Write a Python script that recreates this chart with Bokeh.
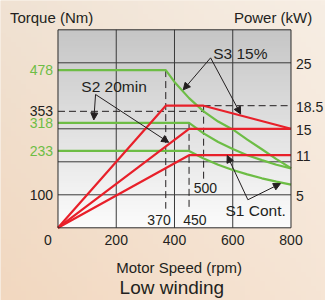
import numpy as np
from bokeh.plotting import figure
from bokeh.models import Range1d, Label, Arrow, NormalHead
from bokeh.core.properties import value
from bokeh.embed import file_html
from bokeh.resources import INLINE

# ---------------- data ----------------
s3_speed = [0, 370, 400, 450, 500, 550, 600, 650, 700, 750, 800]
s3_torque = [478, 478, 442, 393, 353, 322, 298, 267, 238, 208, 181]
s2_speed = [0, 450, 500, 550, 600, 650, 700, 750, 800]
s2_torque = [318, 318, 286, 260, 239, 220, 205, 191, 180]
s1_speed = [0, 450, 500, 550, 600, 650, 700, 750, 800]
s1_torque = [233, 233, 210, 191, 175, 162, 150, 140, 131]

s3_power_speed = [0, 370, 500, 800]
s3_power = [0, 18.5, 18.5, 15]
s2_power_speed = [0, 450, 800]
s2_power = [0, 15, 15]
s1_power_speed = [0, 450, 800]
s1_power = [0, 11, 11]

speed_ticks = [200, 400, 600, 800]
torque_ticks = [478, 353, 318, 233, 100]
torque_tick_is_curve = [True, False, True, True, False]
power_ticks = [5, 11, 15, 18.5, 25]
grid_torque = [100, 200, 300, 500]
grid_speed = [200, 400, 600]
marked_speeds = [370, 450, 500]
s3_corner_torque = 353
s3_peak_power = 18.5

SPEED_MAX = 800
TORQUE_MAX = 600
POWER_MAX = 30

# ---------------- styles ----------------
GREEN = "#6dbd45"
RED = "#e8202a"
DARK = "#231f20"
GRID = "#3a3a3a"
FONT = "Liberation Sans"

# frame covers the whole canvas; the chart box is drawn inside it
X0, X1 = -197.4, 918.5
Y0, Y1 = -220.3, 688.8
K = TORQUE_MAX / POWER_MAX

p = figure(width=325, height=300, output_backend="svg", toolbar_location=None,
           x_range=Range1d(X0, X1), y_range=Range1d(Y0, Y1),
           x_axis_location=None, y_axis_location=None,
           min_border=0, min_border_left=0, min_border_right=0,
           min_border_top=0, min_border_bottom=0)
p.extra_y_ranges = {"power": Range1d(Y0 / K, Y1 / K)}
p.outline_line_color = None
p.border_fill_color = "#f4e3d2"
p.background_fill_color = "#f4e3d2"
p.xgrid.visible = False
p.ygrid.visible = False

# peach page background (diagonal shading)
m = 64
u = np.linspace(0, 1, m)[None, :]
v = np.linspace(1, 0, m)[:, None]  # row 0 = bottom
tl, tr = np.array([242, 216, 192]), np.array([246, 229, 213])
bl, br = np.array([240, 226, 211]), np.array([247, 238, 228])
top = tl[None, None, :] * (1 - u[..., None]) + tr[None, None, :] * u[..., None]
bot = bl[None, None, :] * (1 - u[..., None]) + br[None, None, :] * u[..., None]
col = (top * v[..., None] + bot * (1 - v[..., None])).astype(np.uint32)
bg = (255 << 24) | (col[..., 2] << 16) | (col[..., 1] << 8) | col[..., 0]
p.image_rgba(image=[bg.astype(np.uint32)], x=X0, y=Y0, dw=X1 - X0, dh=Y1 - Y0, level="image")

# plot box grey gradient
n = 96
shade = np.linspace(252, 198, n).astype(np.uint32)
img = np.zeros((n, 1), dtype=np.uint32)
img[:, 0] = (255 << 24) | (shade << 16) | (shade << 8) | shade
p.image_rgba(image=[img], x=0, y=0, dw=SPEED_MAX, dh=TORQUE_MAX, level="image")

# grid lines
p.segment(x0=grid_speed, y0=[0] * len(grid_speed), x1=grid_speed, y1=[TORQUE_MAX] * len(grid_speed),
          line_color=GRID, line_width=1)
p.segment(x0=[0] * len(grid_torque), y0=grid_torque, x1=[SPEED_MAX] * len(grid_torque), y1=grid_torque,
          line_color=GRID, line_width=1)

# dashed helper lines
DASH = "7 4"
p.line([0, marked_speeds[2]], [s3_corner_torque, s3_corner_torque],
       line_color=DARK, line_width=1, line_dash=DASH)
p.line([marked_speeds[2], SPEED_MAX], [s3_peak_power, s3_peak_power], y_range_name="power",
       line_color=DARK, line_width=1, line_dash=DASH)
p.line([marked_speeds[0], marked_speeds[0]], [s3_torque[1], 58],
       line_color=DARK, line_width=1, line_dash=DASH)
p.line([marked_speeds[1], marked_speeds[1]], [s2_torque[1], 58],
       line_color=DARK, line_width=1, line_dash=DASH)
p.line([marked_speeds[2], marked_speeds[2]], [s3_peak_power, 7.2], y_range_name="power",
       line_color=DARK, line_width=1, line_dash=DASH)

# curves
for xs, ys in ((s3_speed, s3_torque), (s2_speed, s2_torque), (s1_speed, s1_torque)):
    p.line(xs, ys, line_color=GREEN, line_width=2.2)
for xs, ys in ((s3_power_speed, s3_power), (s2_power_speed, s2_power), (s1_power_speed, s1_power)):
    p.line(xs, ys, y_range_name="power", line_color=RED, line_width=2.2)

# plot box outline
p.quad(left=[0], right=[SPEED_MAX], bottom=[0], top=[TORQUE_MAX], fill_color=None,
       line_color="#2b2b2b", line_width=1)

# tick labels
TXT = dict(text_font=value(FONT), text_font_size="14px", text_baseline="middle")
p.text(x=[0] * len(torque_ticks), y=torque_ticks, text=[str(t) for t in torque_ticks],
       text_color=[GREEN if c else DARK for c in torque_tick_is_curve],
       x_offset=-5, text_align="right", **TXT)
p.text(x=speed_ticks, y=[0] * len(speed_ticks), text=[str(t) for t in speed_ticks],
       text_color=DARK, y_offset=12, text_align="center", **TXT)
p.text(x=[0], y=[0], text=["0"], text_color=DARK, x_offset=-10, y_offset=12,
       text_align="center", **TXT)
p.text(x=[SPEED_MAX] * len(power_ticks), y=power_ticks, y_range_name="power",
       text=["%g" % t for t in power_ticks], text_color=DARK, x_offset=5, y_offset=1,
       text_align="left", **TXT)

# annotations
def lab(x, y, text, size="14px", align="left", baseline="middle", color=DARK):
    p.add_layout(Label(x=x, y=y, text=text, text_font=FONT, text_font_size=size,
                       text_align=align, text_baseline=baseline, text_color=color))

lab(-165, 637, "Torque (Nm)", size="15px")
lab(873, 637, "Power (kW)", size="15px", align="right")
lab(416, -119, "Motor Speed (rpm)", size="15px", align="center")
lab(391, -180, "Low winding", size="19px", align="center")
lab(533, 527, "S3 15%", size="15.5px")
lab(80, 428, "S2 20min", size="15.5px")
lab(575, 52, "S1 Cont.", size="15.5px")
lab(347, 24, str(marked_speeds[0]), align="center")
lab(470, 25, str(marked_speeds[1]), align="center")
lab(506, 120, str(marked_speeds[2]), align="center")

def arrow(x0, y0, x1, y1):
    p.add_layout(Arrow(x_start=x0, y_start=y0, x_end=x1, y_end=y1, line_color=DARK,
                       line_width=1,
                       end=NormalHead(size=7, fill_color=DARK, line_color=DARK, line_width=1)))

arrow(524, 515, 430, 418)
arrow(524, 515, 627, 345)
arrow(129, 404, 123, 327)
arrow(129, 404, 380, 259)
arrow(652, 85, 581, 219)
arrow(652, 85, 764, 134)

open("out.html", "w").write(file_html(p, INLINE))
